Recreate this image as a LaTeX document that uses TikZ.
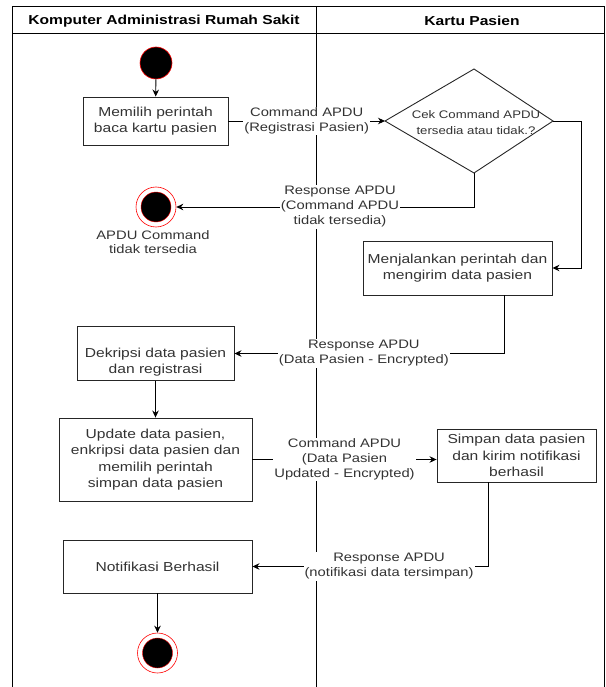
\documentclass[tikz,border=0pt]{standalone}
\usepackage{fontspec}
\setmainfont{Liberation Sans}[FakeStretch=1.2]
\usetikzlibrary{arrows.meta}

\definecolor{txtgray}{HTML}{333333}
\definecolor{endred}{HTML}{FF0000}

\newcommand{\boxfont}{\fontsize{13}{16.3}\selectfont}
\newcommand{\lblfont}{\fontsize{12.3}{15}\selectfont}
\newcommand{\decfont}{\fontsize{11}{16}\selectfont}

\tikzset{
  actbox/.style={draw=black!85, line width=0.9pt, rectangle, inner sep=0pt, text=txtgray, align=center, font=\boxfont},
  boxtext/.style={inner sep=0pt, text=txtgray, align=center, font=\boxfont},
  msglabel/.style={fill=white, inner sep=1pt, align=center, text=txtgray, font=\lblfont},
  conn/.style={line width=0.9pt, -{Stealth[length=7pt,width=6.5pt]}},
  startstate/.style={circle, fill=black, draw=endred, line width=0.6pt, minimum size=32pt, inner sep=0pt},
  endstate/.style={circle, fill=white, draw=endred, line width=0.6pt, minimum size=40pt, inner sep=0pt},
}

\begin{document}
\begin{tikzpicture}[x=1pt,y=-1pt]
        \useasboundingbox (0,0) rectangle (605,687);

        % swimlanes
        \draw[line width=1pt] (12.5,687) -- (12.5,7) -- (604,7) -- (604,687);
        \draw[line width=1pt] (12.5,34) -- (604,34);
        \draw[line width=1pt] (316,7) -- (316,687);
        \node[font=\boxfont\bfseries] (lanersk) at (164,21) {Komputer Administrasi Rumah Sakit};
        \node[font=\boxfont\bfseries] (lanekartu) at (472,21) {Kartu Pasien};

        % states and actions
        \node[startstate] (start) at (156,63) {};
        \node[actbox, minimum width=145pt, minimum height=48pt] (box1) at (155.5,121) {Memilih perintah\\baca kartu pasien};

        \coordinate (dl) at (385,121);
        \coordinate (dt) at (474,69);
        \coordinate (dr) at (553,121);
        \coordinate (db) at (474,173);
        \draw[draw=black!85, line width=0.9pt] (dl) -- (dt) -- (dr) -- (db) -- cycle;
        \node[boxtext, font=\decfont] (cek) at (476,123) {Cek Command APDU\\tersedia atau tidak.?};

        \node[endstate] (end1) at (156,207) {};
        \filldraw[fill=black, draw=endred, line width=0.4pt] (end1.center) circle (15pt);
        \node[boxtext, font=\fontsize{12.3}{14}\selectfont] (end1txt) at (153,242) {APDU Command\\tidak tersedia};

        \node[actbox, minimum width=189pt, minimum height=54pt] (box3) at (457.5,268) {Menjalankan perintah dan\\mengirim data pasien};
        \node[actbox, minimum width=157pt, minimum height=54pt] (box4) at (155.5,353.5) {};
        \node[boxtext] (box4txt) at (155.5,362) {Dekripsi data pasien\\dan registrasi};
        \node[actbox, minimum width=193pt, minimum height=83pt] (box5) at (155.5,459.5) {Update data pasien,\\enkripsi data pasien dan\\memilih perintah\\simpan data pasien};
        \node[actbox, minimum width=159pt, minimum height=53pt] (box6) at (516.5,455.5) {Simpan data pasien\\dan kirim notifikasi\\berhasil};
        \node[actbox, minimum width=189pt, minimum height=53pt] (box7) at (157.5,566.5) {Notifikasi Berhasil};
        \node[endstate] (end2) at (157.5,653) {};
        \filldraw[fill=black, draw=endred, line width=0.4pt] (end2.center) circle (15pt);

        \coordinate (b3out) at (504,295);
        \coordinate (b6out) at (488,482);

        % flows
        \draw[conn] (start) -- (box1);
        \draw[conn] (box1) -- node[msglabel] {Command APDU\\(Registrasi Pasien)} (dl);
        \draw[conn] (dr) -- ++(28,0) |- (box3);
        \draw[conn] (db) |- node[msglabel, pos=0.725] {Response APDU\\(Command APDU\\tidak tersedia)} (end1);
        \draw[conn] (b3out) |- node[msglabel, pos=0.76] {Response APDU\\(Data Pasien - Encrypted)} (box4);
        \draw[conn] (box4) -- (box5);
        \draw[conn] (box5) -- node[msglabel] {Command APDU\\(Data Pasien\\Updated - Encrypted)} (box5 -| box6.west);
        \draw[conn] (b6out) |- node[msglabel, pos=0.71] {Response APDU\\(notifikasi data tersimpan)} (box7);
        \draw[conn] (box7) -- (end2);
      \end{tikzpicture}
\end{document}
